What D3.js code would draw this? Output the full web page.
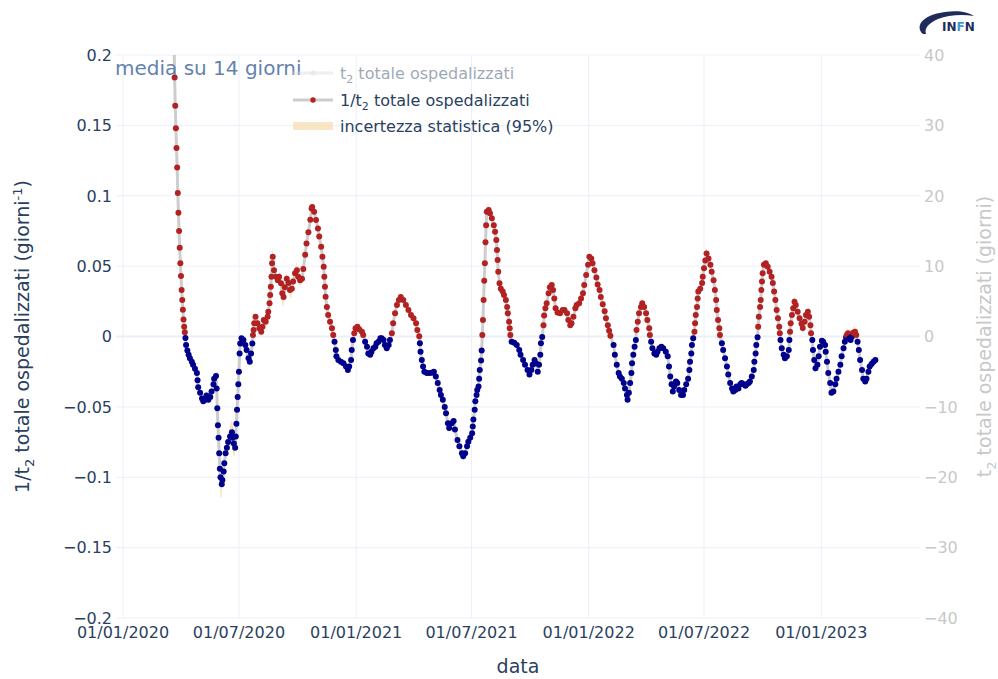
<!DOCTYPE html>
<html>
<head>
<meta charset="utf-8">
<script src="https://cdn.jsdelivr.net/npm/d3@7"></script>
<style>
  body { margin: 0; background: #fff; }
  svg { display: block; font-family: "DejaVu Sans", sans-serif; }
</style>
</head>
<body>
<div id="chart"></div>
<script>
// days since 01/01/2020 and the 14-day mean of 1/t2 (hospitalised)
var baseDate = new Date(2020, 0, 1);

var days = [
  80,81,82,83,84,85,86,87,88,89,
  90,91,92,93,94,95,96,97,98,99,
  101,103,105,108,110,113,116,117,118,121,
  124,126,129,131,134,137,139,142,143,146,
  147,148,149,150,151,152,153,155,156,158,
  159,161,163,165,168,171,172,174,176,177,
  178,179,180,181,182,183,184,186,189,192,
  194,197,199,201,203,204,205,206,208,211,
  214,217,219,221,224,227,228,230,231,232,
  233,234,235,237,240,243,245,248,250,252,
  254,257,260,262,265,267,270,273,275,278,
  281,283,286,288,291,294,296,297,300,303,
  306,308,311,313,315,316,317,318,320,322,
  325,328,330,332,334,335,338,342,346,350,
  353,355,358,359,361,363,365,368,371,375,
  377,380,383,385,388,390,393,396,398,401,
  404,406,409,411,414,417,419,422,424,427,
  430,433,436,440,444,448,452,456,460,462,
  465,466,467,469,471,473,477,481,485,488,
  491,494,497,499,502,505,507,510,512,516,
  519,521,525,528,532,534,537,540,542,545,
  548,549,550,552,553,555,556,558,559,560,
  562,563,564,565,566,567,568,569,570,571,
  574,576,579,582,584,586,587,588,589,591,
  593,596,598,601,603,604,606,607,608,610,
  614,618,622,624,628,631,635,638,641,643,
  646,648,651,653,655,656,658,660,661,663,
  665,668,670,673,675,677,679,682,686,690,
  693,697,699,702,704,707,710,712,716,719,
  722,724,727,730,732,735,737,740,743,745,
  748,750,753,756,758,761,763,765,770,772,
  775,778,780,783,786,788,791,792,794,796,
  798,799,801,803,805,806,808,810,813,815,
  818,821,823,826,827,829,831,834,837,839,
  842,845,848,852,855,857,859,861,863,865,
  868,870,873,876,879,881,884,887,889,890,
  892,893,895,897,898,899,901,902,903,906,
  909,910,912,914,916,919,922,924,927,929,
  931,932,934,936,937,940,942,945,948,950,
  953,956,958,961,963,966,969,971,974,977,
  979,982,984,987,990,991,993,994,996,997,
  998,1000,1001,1002,1003,1004,1006,1009,1012,1015,
  1018,1020,1022,1024,1026,1028,1030,1031,1032,1034,
  1037,1039,1042,1045,1046,1047,1048,1050,1052,1054,
  1056,1059,1062,1065,1067,1070,1072,1075,1077,1079,
  1080,1082,1083,1085,1087,1090,1092,1094,1097,1099,
  1102,1103,1105,1107,1110,1112,1115,1118,1120,1123,
  1126,1128,1131,1133,1135,1136,1138,1140,1142,1144,
  1146,1149,1151,1153,1155,1157,1160,1162,1165,1167,
  1170,1172,1175,1178,1181
];

var invT2 = [
  .215,.184,.164,.148,.134,.120,.102,.088,.075,.063,
  .052,.043,.033,.026,.019,.012,.007,.003,-.001,-.006,
  -.010,-.013,-.0155,-.018,-.020,-.023,-.026,-.031,-.036,-.040,
  -.044,-.046,-.045,-.042,-.045,-.043,-.039,-.034,-.030,-.028,
  -.037,-.051,-.063,-.072,-.083,-.094,-.100,-.105,-.102,-.096,
  -.090,-.083,-.079,-.075,-.071,-.068,-.072,-.076,-.079,-.071,
  -.062,-.052,-.043,-.034,-.025,-.012,-.005,-.0013,-.0025,-.006,
  -.0096,-.0155,-.018,-.012,-.005,.001,.0046,.0094,.014,.0094,
  .0058,.0034,.007,.0117,.0105,.014,.0176,.0236,.0295,.0354,
  .0425,.052,.0567,.047,.0425,.040,.0425,.0378,.0307,.028,
  .035,.041,.038,.033,.034,.039,.045,.047,.0425,.040,
  .041,.048,.058,.066,.074,.083,.091,.092,.0886,.0827,
  .0768,.071,.0638,.0567,.0496,.0425,.0354,.0283,.021,.0153,
  .0105,.0058,.001,-.0037,-.0096,-.014,-.0167,-.018,-.019,-.0214,
  -.0238,-.0214,-.0167,-.0096,-.0025,.0023,.0058,.007,.005,.0034,
  .001,-.0037,-.0072,-.012,-.013,-.0108,-.0084,-.0072,-.0048,-.0037,
  -.0013,-.0013,-.0025,-.006,-.0084,-.006,-.0025,.0023,.0094,.0165,
  .0224,.026,.028,.026,.0224,.0188,.0153,.013,.0094,.0046,
  .0002,-.0048,-.0108,-.0167,-.0214,-.025,-.026,-.026,-.0257,-.025,
  -.0285,-.033,-.038,-.0415,-.045,-.050,-.0545,-.0616,-.065,-.0616,
  -.060,-.066,-.0735,-.078,-.083,-.085,-.083,-.078,-.0747,-.072,
  -.0687,-.064,-.059,-.052,-.046,-.0415,-.038,-.0356,-.030,-.0238,
  -.017,-.010,.001,.0117,.026,.0396,.052,.067,.079,.0886,
  .0898,.0875,.084,.079,.0744,.0685,.0614,.0543,.046,.0378,
  .034,.032,.0295,.026,.021,.0165,.0105,.0058,.001,-.0037,
  -.0044,-.006,-.0096,-.013,-.0167,-.020,-.0238,-.027,-.0238,-.020,
  -.0167,-.019,-.025,-.020,-.013,-.0048,-.0003,.008,.015,.020,
  .0236,.0307,.035,.0366,.033,.027,.020,.017,.0165,.0188,
  .0188,.0165,.0117,.008,.0094,.014,.020,.0224,.0236,.027,
  .0307,.0366,.0437,.051,.0567,.0555,.052,.047,.042,.037,
  .033,.028,.023,.018,.013,.008,.004,.0005,-.006,-.013,
  -.020,-.026,-.0285,-.030,-.033,-.037,-.0415,-.045,-.040,-.033,
  -.026,-.019,-.013,-.0072,-.0025,.0046,.0105,.0165,.021,.0236,
  .021,.0165,.0117,.0058,.001,-.0037,-.0084,-.012,-.013,-.0108,
  -.0084,-.0072,-.0084,-.0108,-.014,-.0214,-.0285,-.034,-.039,-.0356,
  -.032,-.033,-.038,-.0415,-.0415,-.038,-.034,-.030,-.0238,-.018,
  -.012,-.006,-.0013,.0034,.0094,.0153,.021,.027,.032,.034,
  .038,.0425,.0485,.054,.059,.0555,.051,.046,.040,.033,
  .026,.0188,.0117,.0058,.001,-.0048,-.0096,-.0155,-.0214,-.027,
  -.033,-.037,-.039,-.038,-.0356,-.037,-.034,-.033,-.034,-.035,
  -.034,-.033,-.032,-.0285,-.0238,-.018,-.012,-.006,-.0005,.007,
  .014,.021,.026,.033,.039,.045,.051,.052,.0496,.046,
  .0425,.038,.032,.026,.0188,.013,.007,.0023,-.0025,-.0084,
  -.013,-.0155,-.014,-.0096,-.0025,.0034,.0094,.0153,.020,.0247,
  .0224,.0176,.013,.009,.006,.0105,.0153,.0176,.014,.008,
  .0023,-.0025,-.0096,-.0167,-.0226,-.020,-.014,-.0072,-.003,-.0037,
  -.006,-.0108,-.018,-.026,-.033,-.040,-.039,-.034,-.030,-.025,
  -.020,-.014,-.0084,-.0037,-.0006,.001,.0023,-.0013,-.0025,-.0001,
  .0027,.0034,.001,-.0037,-.0096,-.0167,-.0238,-.030,-.032,-.030,
  -.025,-.0214,-.0195,-.018,-.0167
];

// 95% band half width where it shows past the markers (elsewhere a thin default)
var bandDays  = [146,150,152,153,155,165,168,171,172,174,176,233,234,235,237,248,250,252,254,257,262,265,270,273,275,278,281,283,534,571,574,1136,1138,1146,1149];
var bandHalf  = [.004,.008,.012,.014,.010,.006,.008,.009,.010,.009,.006,.006,.008,.007,.005,.006,.008,.007,.005,.004,.006,.006,.004,.006,.005,.004,.004,.005,.004,.003,.004,.004,.004,.004,.004];
var bandDefault = 0.0022;

var xTickDates = ["2020-01-01","2020-07-01","2021-01-01","2021-07-01","2022-01-01","2022-07-01","2023-01-01"];
var yTicks = [0.2,0.15,0.1,0.05,0,-0.05,-0.1,-0.15,-0.2];
var yTickLabels = ["0.2","0.15","0.1","0.05","0","\u22120.05","\u22120.1","\u22120.15","\u22120.2"];
var y2Ticks = [40,30,20,10,0,-10,-20,-30,-40];
var y2TickLabels = ["40","30","20","10","0","\u221210","\u221220","\u221230","\u221240"];

if (days.length != invT2.length) throw new Error("length mismatch " + days.length + " " + invT2.length);

var W = 998, H = 679;
var pL = 116, pR = 920, pT = 55, pB = 618;
var ink = "#2a3f5f", grid = "#ebf0f8", faint = "#c8c8c8";
var parseDay = d3.timeParse("%Y-%m-%d");

var bandMap = {};
bandDays.forEach((d, i) => bandMap[d] = bandHalf[i]);

var data = days.map((d, i) => ({
  date: d3.timeDay.offset(baseDate, d),
  v: invT2[i],
  h: bandMap[d] != null ? bandMap[d] : bandDefault
}));

var x = d3.scaleTime()
  .domain([parseDay("2019-12-21"), parseDay("2023-06-05")])
  .range([pL, pR]);
var y = d3.scaleLinear().domain([-0.2, 0.2]).range([pB, pT]);
var y2 = d3.scaleLinear().domain([-40, 40]).range([pB, pT]);

var svg = d3.select("#chart").append("svg")
  .attr("width", W).attr("height", H);

svg.append("defs").append("clipPath").attr("id", "plot")
  .append("rect").attr("x", pL).attr("y", pT)
  .attr("width", pR - pL).attr("height", pB - pT);

// grid
svg.selectAll(".gy").data(yTicks).enter().append("line")
  .attr("x1", pL).attr("x2", pR)
  .attr("y1", d => y(d)).attr("y2", d => y(d))
  .attr("stroke", grid).attr("stroke-width", d => d == 0 ? 2 : 1);

svg.selectAll(".gx").data(xTickDates).enter().append("line")
  .attr("x1", d => x(parseDay(d))).attr("x2", d => x(parseDay(d)))
  .attr("y1", pT).attr("y2", pB)
  .attr("stroke", grid).attr("stroke-width", 1);

var plot = svg.append("g").attr("clip-path", "url(#plot)");

// uncertainty band
plot.append("path").datum(data)
  .attr("d", d3.area().x(d => x(d.date)).y0(d => y(d.v - d.h)).y1(d => y(d.v + d.h)))
  .attr("fill", "#f5deb3").attr("opacity", 0.75);

// connecting line
plot.append("path").datum(data)
  .attr("d", d3.line().x(d => x(d.date)).y(d => y(d.v)))
  .attr("fill", "none").attr("stroke", "#cdcdcd").attr("stroke-width", 3);

plot.selectAll(".pt").data(data).enter().append("circle")
  .attr("cx", d => x(d.date)).attr("cy", d => y(d.v)).attr("r", 3)
  .attr("fill", d => d.v >= 0 ? "#b22222" : "#00008b");

// left axis labels
svg.selectAll(".yl").data(yTicks).enter().append("text")
  .text((d, i) => yTickLabels[i])
  .attr("x", 112).attr("y", d => y(d)).attr("dy", "0.36em")
  .attr("text-anchor", "end").attr("font-size", 16).attr("fill", ink);

// right axis labels
svg.selectAll(".y2l").data(y2Ticks).enter().append("text")
  .text((d, i) => y2TickLabels[i])
  .attr("x", 924).attr("y", d => y2(d)).attr("dy", "0.36em")
  .attr("text-anchor", "start").attr("font-size", 16).attr("fill", faint);

// x labels
var fmt = d3.timeFormat("%d/%m/%Y");
svg.selectAll(".xl").data(xTickDates).enter().append("text")
  .text(d => fmt(parseDay(d)))
  .attr("x", d => x(parseDay(d))).attr("y", 638)
  .attr("text-anchor", "middle").attr("font-size", 16).attr("fill", ink);

svg.append("text").text("data")
  .attr("x", (pL + pR) / 2).attr("y", 673)
  .attr("text-anchor", "middle").attr("font-size", 19).attr("fill", ink);

// axis titles
var lt = svg.append("text")
  .attr("transform", "translate(29," + ((pT + pB) / 2) + ") rotate(-90)")
  .attr("text-anchor", "middle").attr("font-size", 19).attr("fill", ink);
lt.append("tspan").text("1/t");
lt.append("tspan").text("2").attr("font-size", 13).attr("dy", 5);
lt.append("tspan").text(" totale ospedalizzati (giorni").attr("dy", -5);
lt.append("tspan").text("-1").attr("font-size", 13).attr("dy", -7);
lt.append("tspan").text(")").attr("dy", 7);

var rt = svg.append("text")
  .attr("transform", "translate(991," + ((pT + pB) / 2) + ") rotate(-90)")
  .attr("text-anchor", "middle").attr("font-size", 19).attr("fill", faint);
rt.append("tspan").text("t");
rt.append("tspan").text("2").attr("font-size", 13).attr("dy", 5);
rt.append("tspan").text(" totale ospedalizzati (giorni)").attr("dy", -5);

// title
svg.append("text").text("media su 14 giorni")
  .attr("x", 115).attr("y", 75)
  .attr("font-size", 20).attr("fill", "#6482ae");

// legend
var lg = svg.append("g");
var l1 = lg.append("g").attr("opacity", 0.45);
l1.append("line").attr("x1", 293).attr("x2", 333).attr("y1", 73).attr("y2", 73)
  .attr("stroke", "#dcdcdc").attr("stroke-width", 3);
l1.append("circle").attr("cx", 313).attr("cy", 73).attr("r", 2.5).attr("fill", "#d0d0d0");
var t1 = l1.append("text").attr("x", 340).attr("y", 79).attr("font-size", 16).attr("fill", ink);
t1.append("tspan").text("t");
t1.append("tspan").text("2").attr("font-size", 11).attr("dy", 4);
t1.append("tspan").text(" totale ospedalizzati").attr("dy", -4);

lg.append("line").attr("x1", 293).attr("x2", 333).attr("y1", 100).attr("y2", 100)
  .attr("stroke", "#cdcdcd").attr("stroke-width", 3);
lg.append("circle").attr("cx", 313).attr("cy", 100).attr("r", 2.7).attr("fill", "#b22222");
var t2 = lg.append("text").attr("x", 340).attr("y", 106).attr("font-size", 16).attr("fill", ink);
t2.append("tspan").text("1/t");
t2.append("tspan").text("2").attr("font-size", 11).attr("dy", 4);
t2.append("tspan").text(" totale ospedalizzati").attr("dy", -4);

lg.append("rect").attr("x", 293).attr("y", 122).attr("width", 40).attr("height", 8)
  .attr("fill", "#f5deb3").attr("opacity", 0.75);
lg.append("text").text("incertezza statistica (95%)")
  .attr("x", 340).attr("y", 132).attr("font-size", 16).attr("fill", ink);

// INFN logo
var logo = svg.append("g");
logo.append("path")
  .attr("d", "M923,34 C915,27 921,15 945,12 C958,10 968,12 974,16 C962,14 948,15 938,19 C929,23 924,28 926,34 Z")
  .attr("fill", "#1f2b5b");
var lt2 = logo.append("text").attr("x", 942).attr("y", 31)
  .attr("font-size", 12).attr("font-weight", "bold").attr("fill", "#1f2b5b");
lt2.append("tspan").text("IN");
lt2.append("tspan").text("F").attr("fill", "#3d9ad6");
lt2.append("tspan").text("N");
</script>
</body>
</html>
